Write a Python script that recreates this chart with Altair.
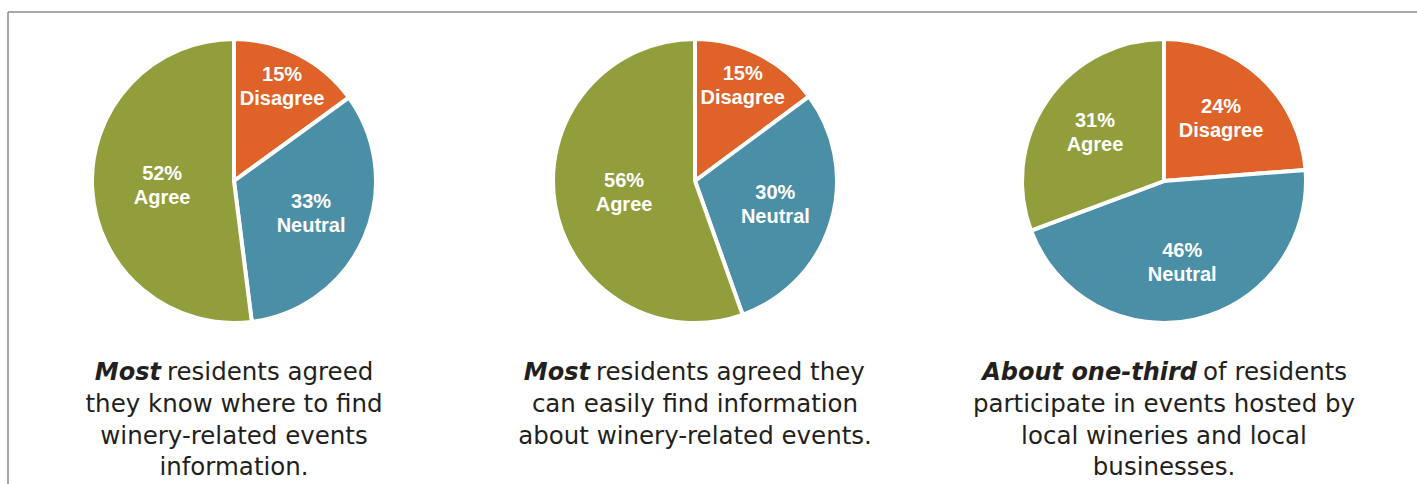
import math
import altair as alt
import pandas as pd

# ---- data ----
categories = ["Disagree", "Neutral", "Agree"]
colors = ["#DF6229", "#4B8FA7", "#929D3B"]
pies = ["know", "find", "participate"]
pie_values = [
    [15, 33, 52],
    [15, 30, 56],
    [24, 46, 31],
]
caption_bold = ["Most", "Most", "About one-third"]
caption_first_rest = ["residents agreed", "residents agreed they", "of residents"]
caption_lines = [
    ["they know where to find", "winery-related events", "information."],
    ["can easily find information", "about winery-related events."],
    ["participate in events hosted by", "local wineries and local", "businesses."],
]

# ---- layout ----
W, H = 1417, 484
centers_x = [234, 695, 1164]
CY = 181
PIE_R = 140
split_gap = [(-73, -67), (-105, -99), (33, 39)]  # bold right edge / regular left edge, relative to centre
LINE1_Y = 380
LINE2_Y = 412
LINE_H = 31.5
TEXT_COLOR = "#231F20"
BORDER = "#8C8C8C"
FONT = "DejaVu Sans"
LABEL_FONT = "Liberation Sans"
LABEL_LH = 24


def label_radius(v):
    if v < 20:
        return 106
    if v <= 46:
        return 84
    return 72


rows = []
for p, name in enumerate(pies):
    vals = pie_values[p]
    total = sum(vals)
    cum = 0
    for k, (cat, v) in enumerate(zip(categories, vals)):
        start = cum / total
        cum += v
        end = cum / total
        rows.append({
            "pie": name, "category": cat, "value": v, "order": k,
            "start": start, "end": end, "mid": (start + end) / 2,
            "cx": centers_x[p],
            "lr": label_radius(v),
            "label": f"{v}%\n{cat}",
        })
df = pd.DataFrame(rows)

cap = pd.DataFrame({
    "pie": pies,
    "bold": caption_bold,
    "rest": caption_first_rest,
    "more": ["\n".join(lines) for lines in caption_lines],
    "cx": centers_x,
    "bx": [c + g[0] for c, g in zip(centers_x, split_gap)],
    "rx": [c + g[1] for c, g in zip(centers_x, split_gap)],
})

theta_scale = alt.Scale(domain=[0, 1], range=[0, 2 * math.pi])

arcs = alt.Chart(df).mark_arc(outerRadius=PIE_R + 2, stroke="white", strokeWidth=4).encode(
    x=alt.X("cx:Q", scale=None, stack=None),
    y=alt.value(CY),
    theta=alt.Theta("start:Q", scale=theta_scale, stack=None),
    theta2="end:Q",
    color=alt.Color("category:N", scale=alt.Scale(domain=categories, range=colors), legend=None),
)

labels = alt.Chart(df).mark_text(
    font=LABEL_FONT, fontWeight="bold", fontSize=20, color="white",
    lineBreak="\n", lineHeight=LABEL_LH, align="center", baseline="middle",
    dy=-LABEL_LH / 2,
).encode(
    x=alt.X("cx:Q", scale=None, stack=None),
    y=alt.value(CY),
    theta=alt.Theta("mid:Q", scale=theta_scale, stack=None),
    radius=alt.Radius("lr:Q", scale=None),
    text="label:N",
)

cbase = alt.Chart(cap)
bold_t = cbase.mark_text(
    font=FONT, fontWeight="bold", fontStyle="italic", fontSize=24,
    align="right", baseline="alphabetic", color=TEXT_COLOR,
).encode(x=alt.X("bx:Q", scale=None, stack=None), y=alt.value(LINE1_Y), text="bold:N")
rest_t = cbase.mark_text(
    font=FONT, fontSize=24.5, align="left", baseline="alphabetic", color=TEXT_COLOR,
).encode(x=alt.X("rx:Q", scale=None, stack=None), y=alt.value(LINE1_Y), text="rest:N")
more_t = cbase.mark_text(
    font=FONT, fontSize=24.5, align="center", baseline="alphabetic", color=TEXT_COLOR,
    lineBreak="\n", lineHeight=LINE_H,
).encode(x=alt.X("cx:Q", scale=None, stack=None), y=alt.value(LINE2_Y), text="more:N")

frame = pd.DataFrame({"k": [0]})
top_rule = alt.Chart(frame).mark_rule(color=BORDER, strokeWidth=1.5).encode(
    x=alt.value(8), x2=alt.value(W + 10), y=alt.value(12), y2=alt.value(12)
)
left_rule = alt.Chart(frame).mark_rule(color=BORDER, strokeWidth=1.5).encode(
    x=alt.value(8), x2=alt.value(8), y=alt.value(12), y2=alt.value(H + 10)
)

chart = alt.layer(top_rule, left_rule, arcs, labels, bold_t, rest_t, more_t).properties(
    width=W, height=H, padding=0,
    autosize=alt.AutoSizeParams(type="none"),
    background="white",
).configure_view(stroke=None)

chart.save("out.html", embed_options={"renderer": "svg", "actions": False})
